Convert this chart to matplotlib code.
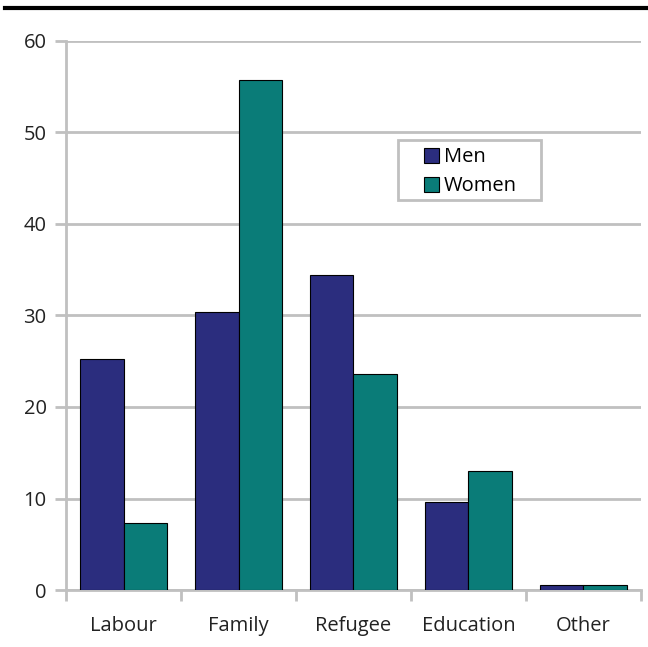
import matplotlib.pyplot as plt
from matplotlib.patches import Rectangle
import numpy as np

categories = ["Labour", "Family", "Refugee", "Education", "Other"]
men = [25.2, 30.4, 34.4, 9.6, 0.5]
women = [7.3, 55.7, 23.6, 13.0, 0.5]
yticks = [0, 10, 20, 30, 40, 50, 60]

plt.rcParams['font.family'] = ['Open Sans', 'DejaVu Sans']

grey = "#c0c0c0"
fig = plt.figure(figsize=(6.48, 6.47), dpi=100)
ax = fig.add_axes([0.102, 0.088, 0.887, 0.849])

x = np.arange(len(categories))
w = 0.375
ax.bar(x - w / 2, men, w, color="#2b2d7e", edgecolor="black", linewidth=0.8, label="Men", zorder=3)
ax.bar(x + w / 2, women, w, color="#0a7c78", edgecolor="black", linewidth=0.8, label="Women", zorder=3)

ax.set_xlim(-0.5, len(categories) - 0.5)
ax.set_ylim(0, 60)
ax.set_yticks(yticks)
ax.yaxis.grid(True, color=grey, linewidth=2, zorder=0)
ax.set_axisbelow(True)

# category boundaries as ticks, labels in the middle
ax.set_xticks(np.arange(len(categories) + 1) - 0.5)
ax.set_xticklabels([])
ax.set_xticks(x, minor=True)
ax.set_xticklabels(categories, minor=True)
ax.tick_params(axis="x", which="minor", length=0, pad=19, labelsize=14.5, labelcolor="#222222")
ax.tick_params(axis="x", which="major", length=8, width=2, color=grey)
ax.tick_params(axis="y", length=8, width=2, color=grey, labelsize=14.5, labelcolor="#222222", pad=6)

for side in ["top", "right"]:
    ax.spines[side].set_visible(False)
for side in ["left", "bottom"]:
    ax.spines[side].set_color(grey)
    ax.spines[side].set_linewidth(2)

# legend box drawn by hand to get the wide left padding
ax.add_patch(Rectangle((0.577, 0.711), 0.249, 0.109, transform=ax.transAxes, facecolor="white",
                       edgecolor=grey, linewidth=2, zorder=4))
leg = ax.legend(loc="upper left", bbox_to_anchor=(0.622, 0.806), fontsize=14.5, frameon=False,
                handlelength=0.75, handleheight=0.75, handletextpad=0.25, borderpad=0,
                labelspacing=0.45, borderaxespad=0)
leg.set_zorder(5)
for h in leg.legend_handles:
    h.set_linewidth(0.8)

fig.add_artist(plt.Line2D([0.008, 1.0], [0.987, 0.987], color="black", linewidth=3))

fig.savefig("out.png", dpi=100)
